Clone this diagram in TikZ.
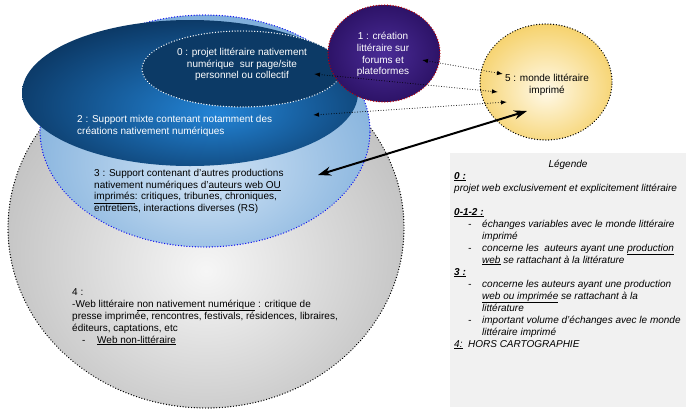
\documentclass[tikz,border=0pt]{standalone}
\usepackage{fontspec}
\setmainfont{Liberation Sans}
\usetikzlibrary{arrows.meta,shapes.geometric}
\definecolor{grayIn}{HTML}{F6F6F6}
\definecolor{grayOut}{HTML}{BDBDBD}
\definecolor{lightIn}{HTML}{D0E3F5}
\definecolor{lightOut}{HTML}{78AAD9}
\definecolor{darkIn}{HTML}{2384D6}
\definecolor{darkOut}{HTML}{0B3763}
\definecolor{navy}{HTML}{0C3A66}
\definecolor{purpIn}{HTML}{4A2C97}
\definecolor{purpOut}{HTML}{2C1266}
\definecolor{yelIn}{HTML}{FFF9E8}
\definecolor{yelOut}{HTML}{F6D36F}
\definecolor{legbg}{HTML}{F1F1F1}
\definecolor{dotblue}{HTML}{1010F0}
\definecolor{dotred}{HTML}{C00000}
\pgfdeclareradialshading{shGray}{\pgfpoint{0bp}{-6bp}}{color(0bp)=(grayIn); color(30bp)=(grayOut); color(60bp)=(grayOut)}
\pgfdeclareradialshading{shLight}{\pgfpoint{0bp}{-10bp}}{color(0bp)=(lightIn); color(33bp)=(lightOut); color(60bp)=(lightOut)}
\pgfdeclareradialshading{shDark}{\pgfpoint{4bp}{-7bp}}{color(0bp)=(darkIn); color(30bp)=(darkOut); color(60bp)=(darkOut)}
\pgfdeclareradialshading{shPurp}{\pgfpoint{0bp}{0bp}}{color(0bp)=(purpIn); color(26bp)=(purpOut); color(60bp)=(purpOut)}
\pgfdeclareradialshading{shYel}{\pgfpoint{0bp}{-4bp}}{color(0bp)=(yelIn); color(27bp)=(yelOut); color(60bp)=(yelOut)}
\tikzset{
  zone/.style={ellipse, inner sep=0pt, outer sep=0pt},
  dotborder/.style={line width=1.4pt, dash pattern=on 0.01pt off 2.8pt, line cap=round},
  lbl/.style={inner sep=0pt, font=\fontsize{10}{12}\selectfont},
  link/.style={line width=1pt, dash pattern=on 0.01pt off 2.6pt, line cap=round, {Latex[length=6pt,width=4.5pt]}-{Latex[length=6pt,width=4.5pt]}},
  biglink/.style={line width=2pt, {Stealth[length=13pt,width=9pt]}-{Stealth[length=13pt,width=9pt]}}
}
\begin{document}
\begin{tikzpicture}[x=1pt,y=-1pt]
\useasboundingbox (0,0) rectangle (693,416);
% zone 4
\node[zone, minimum width=396pt, minimum height=360pt, shading=shGray, draw=black, dotborder] (z4) at (206,228) {};
% zone 3
\node[zone, minimum width=330pt, minimum height=232pt, shading=shLight, draw=dotblue, dotborder] (z3) at (205,131) {};
% zone 2
\node[zone, minimum width=336pt, minimum height=146pt, shading=shDark] (z2) at (190,93) {};
% zone 0
\node[zone, minimum width=200pt, minimum height=76pt, fill=navy, draw=white, dotborder] (z0) at (242,69) {};
% zone 1
\node[zone, minimum width=112pt, minimum height=97pt, shading=shPurp, draw=dotred, dotborder] (z1) at (384,53.5) {};
% zone 5
\node[zone, minimum width=132pt, minimum height=116pt, shading=shYel, draw=black, dotborder] (z5) at (546,82) {};
% legend box
\node[rectangle, inner sep=0pt, minimum width=236pt, minimum height=254pt, fill=legbg, anchor=north west] (legbox) at (450,153) {};

% texts
\node[lbl, text=white, align=center, anchor=north, font=\fontsize{10}{11.5}\selectfont] (t0) at (242,47.5)
  {\strut0 : projet littéraire nativement\\numérique\ \ sur page/site\\personnel ou collectif};
\node[lbl, text=white, align=center, anchor=north, font=\fontsize{10}{11.7}\selectfont] (t1) at (383,31.5)
  {\strut1 : création\\littéraire sur\\forums et\\plateformes};
\node[lbl, text=black, align=center, anchor=north] (t5) at (547,72.5)
  {\strut5 : monde littéraire\\imprimé};
\node[lbl, text=white, align=left, anchor=north west, font=\fontsize{10}{12.5}\selectfont] (t2) at (77,113.5)
  {\strut2 : Support mixte contenant notamment des\\créations nativement numériques};
\node[lbl, text=black, align=left, anchor=north west, font=\fontsize{10}{11.5}\selectfont] (t3) at (94,168.5)
  {\strut3 : Support contenant d'autres productions\\nativement numériques d'\underline{auteurs web OU}\\\underline{imprimés}: critiques, tribunes, chroniques,\\entretiens, interactions diverses (RS)};
\node[lbl, text=black, align=left, anchor=north west] (t4) at (72,286.5)
  {\strut4 :\\-Web littéraire \underline{non nativement numérique} : critique de\\presse imprimée, rencontres, festivals, résidences, libraires,\\éditeurs, captations, etc\\\hspace*{10pt}\makebox[15pt][l]{-}\underline{Web non-littéraire}};
\node[lbl, text=black, anchor=north, font=\fontsize{10}{12}\selectfont\itshape] (tleg) at (568,158.5) {\strut Légende};
\node[lbl, text=black, align=left, anchor=north west, font=\fontsize{10}{12}\selectfont\itshape] (tbody) at (454,170.5)
  {\strut\underline{\textbf{0 :}}\\
   projet web exclusivement et explicitement littéraire\\[12pt]
   \underline{\textbf{0-1-2 :}}\\
   \hspace*{14pt}\makebox[14pt][l]{-}échanges variables avec le monde littéraire\\
   \hspace*{28pt}imprimé\\
   \hspace*{14pt}\makebox[14pt][l]{-}concerne les\ \ auteurs ayant une \underline{production}\\
   \hspace*{28pt}\underline{web} se rattachant à la littérature\\
   \underline{\textbf{3 :}}\\
   \hspace*{14pt}\makebox[14pt][l]{-}concerne les auteurs ayant une production\\
   \hspace*{28pt}\underline{web ou imprimée} se rattachant à la\\
   \hspace*{28pt}littérature\\
   \hspace*{14pt}\makebox[14pt][l]{-}important volume d'échanges avec le monde\\
   \hspace*{28pt}littéraire imprimé\\
   \underline{4:}\ \ HORS CARTOGRAPHIE};

% arrow ends
\coordinate (a1) at (422,60);
\coordinate (a2) at (503,74);
\coordinate (b1) at (314,74);
\coordinate (b2) at (498,92);
\coordinate (c1) at (313,115);
\coordinate (c2) at (507,102);
\coordinate (d1) at (318,175);
\coordinate (d2) at (527,111);
\draw[link] (a1) -- (a2);
\draw[link] (b1) -- (b2);
\draw[link] (c1) -- (c2);
\draw[biglink] (d1) -- (d2);
\end{tikzpicture}
\end{document}
